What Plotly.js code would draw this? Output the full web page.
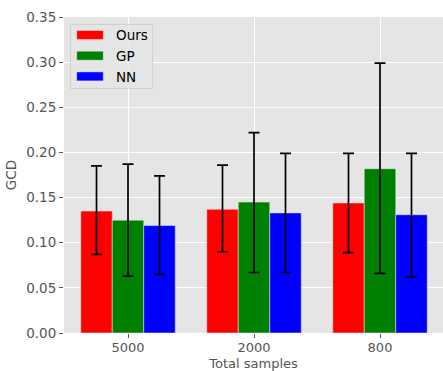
<!DOCTYPE html>
<html>
<head>
<meta charset="utf-8">
<script src="https://cdn.plot.ly/plotly-3.0.1.min.js"></script>
<style>html,body{margin:0;padding:0;background:#fff;overflow:hidden}#chart{width:443px;height:371px}</style>
</head>
<body>
<div id="chart"></div>
<script>
const categories = ["5000", "2000", "800"];
const seriesNames = ["Ours", "GP", "NN"];
const oursMean = [0.135, 0.137, 0.144];
const oursUpper = [0.185, 0.186, 0.199];
const oursLower = [0.087, 0.090, 0.089];
const gpMean = [0.125, 0.145, 0.182];
const gpUpper = [0.187, 0.222, 0.299];
const gpLower = [0.063, 0.067, 0.066];
const nnMean = [0.119, 0.133, 0.131];
const nnUpper = [0.174, 0.199, 0.199];
const nnLower = [0.065, 0.067, 0.062];
const colors = ["#ff0000", "#008000", "#0000ff"];

const means = [oursMean, gpMean, nnMean];
const uppers = [oursUpper, gpUpper, nnUpper];
const lowers = [oursLower, gpLower, nnLower];

const traces = seriesNames.map((name, i) => ({
  type: "bar",
  name: name,
  x: categories,
  y: means[i],
  showlegend: false,
  marker: {color: colors[i], line: {color: "#eeeeee", width: 0.5}},
  error_y: {
    type: "data",
    symmetric: false,
    array: uppers[i].map((u, k) => u - means[i][k]),
    arrayminus: means[i].map((m, k) => m - lowers[i][k]),
    color: "#000000",
    thickness: 1.7,
    width: 5.5
  }
}));

// plot area geometry (pixels) for the hand-drawn matplotlib-style legend
const M = {l: 64, r: 0, t: 17, b: 38};
const W = 443, H = 371;
const pw = W - M.l - M.r, ph = H - M.t - M.b;
const px = v => (v - M.l) / pw;
const py = v => (H - M.b - v) / ph;

const shapes = [{
  type: "rect", xref: "paper", yref: "paper", layer: "above",
  x0: px(70.5), x1: px(152.5), y0: py(88.5), y1: py(24.5),
  fillcolor: "rgba(229,229,229,0.8)", line: {color: "rgba(204,204,204,0.8)", width: 1}
}];
const annotations = [];
seriesNames.forEach((name, i) => {
  const cy = 35 + i * 20.7;
  shapes.push({
    type: "rect", xref: "paper", yref: "paper", layer: "above",
    x0: px(76.7), x1: px(103.3), y0: py(cy + 4.5), y1: py(cy - 4.5),
    fillcolor: colors[i], line: {color: "#eeeeee", width: 0.5}
  });
  annotations.push({
    xref: "paper", yref: "paper", x: px(114), y: py(cy + 0.5),
    xanchor: "left", yanchor: "middle", showarrow: false, text: name,
    font: {family: "DejaVu Sans", size: 13.5, color: "#000000"}
  });
});

const tickFont = {family: "DejaVu Sans", size: 13.5, color: "#555555"};
const layout = {
  width: W,
  height: H,
  margin: M,
  paper_bgcolor: "#ffffff",
  plot_bgcolor: "#e5e5e5",
  barmode: "group",
  bargap: 0.25,
  bargroupgap: 0,
  showlegend: false,
  shapes: shapes,
  annotations: annotations,
  xaxis: {
    type: "category",
    range: [-0.508, 2.5],
    showgrid: true, gridcolor: "#ffffff", gridwidth: 1,
    ticks: "outside", ticklen: 4, tickcolor: "#555555",
    tickfont: {family: "DejaVu Sans", size: 13, color: "#555555"},
    ticklabelstandoff: -2,
    zeroline: false, showline: false,
    title: {text: "Total samples", font: {family: "DejaVu Sans", size: 13, color: "#555555"}, standoff: 6}
  },
  yaxis: {
    range: [0, 0.35],
    dtick: 0.05,
    tickformat: ".2f",
    showgrid: true, gridcolor: "#ffffff", gridwidth: 1,
    ticks: "outside", ticklen: 4, tickcolor: "#555555",
    tickfont: tickFont,
    zeroline: false, showline: false,
    title: {text: "GCD", font: tickFont, standoff: 6}
  }
};

Plotly.newPlot("chart", traces, layout, {displayModeBar: false, staticPlot: true});
</script>
</body>
</html>
